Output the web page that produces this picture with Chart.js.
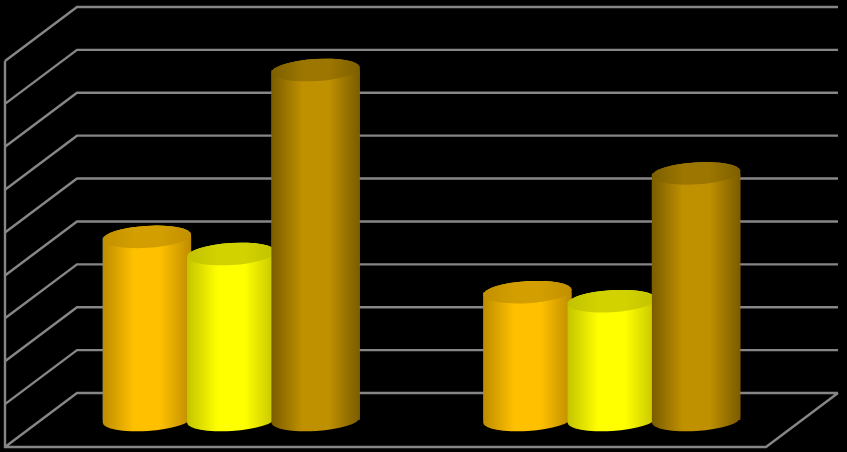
<!DOCTYPE html>
<html>
<head>
<meta charset="utf-8">
<style>
  html, body { margin: 0; padding: 0; background: #000; overflow: hidden; }
  canvas { display: block; }
</style>
<script src="https://cdn.jsdelivr.net/npm/chart.js@4/dist/chart.umd.min.js"></script>
</head>
<body>
<canvas id="myChart" width="847" height="452"></canvas>
<script>
'use strict';

// ***** DATA (no text in the picture, values are read off the gridlines) *****
const categories = ['Group 1', 'Group 2'];
const seriesNames = ['Series 1', 'Series 2', 'Series 3'];
const orangeValues = [42.7, 29.8];
const yellowValues = [38.7, 27.7];
const brownValues = [81.6, 57.5];

// ***** STYLES *****
const edgeColors = ['#bd8c00', '#c4c400', '#7a5c00'];
const midColors = ['#ffc000', '#ffff00', '#bf9000'];
const capEdgeColors = ['#c29000', '#c2c200', '#7d5f00'];
const capMidColors = ['#d29e00', '#d2d200', '#9c7600'];
const gridColor = '#868686';
const depthX = 36;
const depthY = 27;
const capHeight = 11;
const tilt = -3.5 * Math.PI / 180;

function sideGradient(ctx, left, right, edge, mid) {
  let gradient = ctx.createLinearGradient(left, 0, right, 0);
  gradient.addColorStop(0, edge);
  gradient.addColorStop(0.35, mid);
  gradient.addColorStop(0.65, mid);
  gradient.addColorStop(1, edge);
  return gradient;
}

// the back wall, left wall and floor, drawn from the y scale ticks
const wallsPlugin = {
  id: 'walls',
  beforeDatasetsDraw(chart) {
    const ctx = chart.ctx;
    const yScale = chart.scales.y;
    const xScale = chart.scales.x;
    const frontLeft = xScale.left - depthX;
    const backLeft = xScale.left + depthX;
    const backRight = xScale.right + depthX;
    const frontRight = xScale.right - depthX;

    ctx.save();
    ctx.strokeStyle = gridColor;
    ctx.lineWidth = 2.4;
    ctx.beginPath();
    yScale.ticks.forEach(function (tick) {
      let y = yScale.getPixelForValue(tick.value);
      ctx.moveTo(frontLeft, y + depthY);
      ctx.lineTo(backLeft, y - depthY);
      ctx.lineTo(backRight, y - depthY);
    });
    // left edge and floor
    let base = yScale.getPixelForValue(yScale.min);
    let top = yScale.getPixelForValue(yScale.max);
    ctx.moveTo(frontLeft, top + depthY);
    ctx.lineTo(frontLeft, base + depthY);
    ctx.lineTo(frontRight, base + depthY);
    ctx.lineTo(backRight, base - depthY);
    ctx.stroke();
    ctx.restore();
  }
};

// turns each bar element into a cylinder, left to right so later ones overlap
const cylinderPlugin = {
  id: 'cylinder',
  afterDatasetsDraw(chart) {
    const ctx = chart.ctx;
    chart.data.datasets.forEach(function (dataset, i) {
      const meta = chart.getDatasetMeta(i);
      meta.data.forEach(function (bar) {
        let rx = bar.width / 2;
        let left = bar.x - rx;
        let right = bar.x + rx;

        ctx.save();
        ctx.beginPath();
        ctx.ellipse(bar.x, bar.base, rx, capHeight, tilt, 0, Math.PI);
        ctx.ellipse(bar.x, bar.y, rx, capHeight, tilt, Math.PI, 2 * Math.PI);
        ctx.closePath();
        ctx.fillStyle = sideGradient(ctx, left, right, edgeColors[i], midColors[i]);
        ctx.fill();

        ctx.beginPath();
        ctx.ellipse(bar.x, bar.y, rx, capHeight, tilt, 0, 2 * Math.PI);
        ctx.fillStyle = sideGradient(ctx, left, right, capEdgeColors[i], capMidColors[i]);
        ctx.fill();
        ctx.restore();
      });
    });
  }
};

const data = {
  labels: categories,
  datasets: [
    { label: seriesNames[0], data: orangeValues },
    { label: seriesNames[1], data: yellowValues },
    { label: seriesNames[2], data: brownValues }
  ]
};

const config = {
  type: 'bar',
  data: data,
  options: {
    responsive: false,
    animation: false,
    devicePixelRatio: 1,
    layout: { padding: { left: 41, right: 45, top: 34, bottom: 32 } },
    datasets: {
      bar: {
        backgroundColor: 'rgba(0,0,0,0)',
        borderWidth: 0,
        categoryPercentage: 0.665,
        barPercentage: 1.05
      }
    },
    plugins: {
      legend: { display: false },
      title: { display: false },
      tooltip: { enabled: false }
    },
    scales: {
      x: { display: false },
      y: { display: false, min: 0, max: 90, ticks: { stepSize: 10 } }
    }
  },
  plugins: [wallsPlugin, cylinderPlugin]
};

let canvasChart = document.getElementById('myChart');
const myChart = new Chart(canvasChart, config);
</script>
</body>
</html>
